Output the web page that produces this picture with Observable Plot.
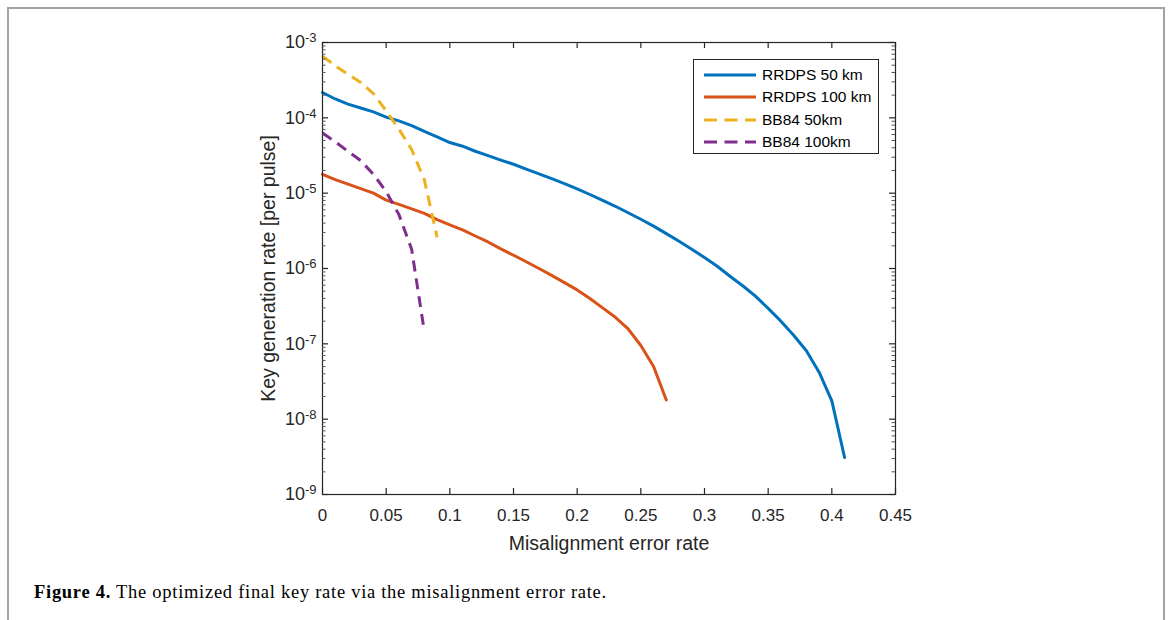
<!DOCTYPE html>
<html><head><meta charset="utf-8">
<script src="https://cdn.jsdelivr.net/npm/d3@7"></script>
<script src="https://cdn.jsdelivr.net/npm/@observablehq/plot@0.6"></script>
<style>
body{margin:0;background:#fff;}
#wrap{position:relative;width:1170px;height:620px;overflow:hidden;background:#fff;font-family:"Liberation Sans",Arial,sans-serif;}
#frame{position:absolute;left:7px;top:7px;width:1158px;height:700px;border:2px solid #a3a3a3;box-sizing:border-box;pointer-events:none;}
#chart{position:absolute;left:0;top:0;}
#legend{position:absolute;left:693px;top:59px;width:186px;height:95px;box-sizing:border-box;border:1px solid #262626;background:#fff;padding-top:4px;}
.row{display:flex;align-items:center;height:22.3px;font-size:15.5px;color:#000;}
.row svg{margin-left:10px;margin-right:6px;}
#caption{position:absolute;left:34px;top:582px;font-family:"Liberation Serif","Times New Roman",serif;font-size:18.5px;letter-spacing:0.72px;color:#000;white-space:nowrap;}
</style>
</head><body>
<div id="wrap"><div id="chart"></div><div id="legend"></div><div id="caption"><b>Figure 4.</b> The optimized final key rate via the misalignment error rate.</div><div id="frame"></div></div>
<script>
// ---- data ----
const xRRDPS50 = [0,0.01,0.02,0.03,0.04,0.05,0.06,0.07,0.08,0.09,0.10,0.11,0.12,0.13,0.14,0.15,0.16,0.17,0.18,0.19,0.20,0.21,0.22,0.23,0.24,0.25,0.26,0.27,0.28,0.29,0.30,0.31,0.32,0.33,0.34,0.35,0.36,0.37,0.38,0.39,0.40,0.41];
const yRRDPS50 = [2.17e-4,1.78e-4,1.52e-4,1.35e-4,1.2e-4,1.02e-4,9.1e-5,7.9e-5,6.6e-5,5.6e-5,4.7e-5,4.2e-5,3.6e-5,3.15e-5,2.75e-5,2.42e-5,2.08e-5,1.8e-5,1.56e-5,1.34e-5,1.14e-5,9.6e-6,8.0e-6,6.7e-6,5.5e-6,4.5e-6,3.65e-6,2.9e-6,2.3e-6,1.8e-6,1.4e-6,1.07e-6,7.9e-7,5.9e-7,4.3e-7,2.95e-7,2.0e-7,1.3e-7,8.1e-8,4.2e-8,1.75e-8,3.1e-9];
const xRRDPS100 = [0,0.01,0.02,0.03,0.04,0.05,0.06,0.07,0.08,0.09,0.10,0.11,0.12,0.13,0.14,0.15,0.16,0.17,0.18,0.19,0.20,0.21,0.22,0.23,0.24,0.25,0.26,0.27];
const yRRDPS100 = [1.78e-5,1.51e-5,1.32e-5,1.15e-5,1.0e-5,8.1e-6,7.1e-6,6.2e-6,5.4e-6,4.45e-6,3.8e-6,3.25e-6,2.7e-6,2.25e-6,1.82e-6,1.5e-6,1.23e-6,1.0e-6,8.1e-7,6.5e-7,5.2e-7,4.0e-7,3.0e-7,2.25e-7,1.58e-7,9.5e-8,5.0e-8,1.8e-8];
const xBB84_50 = [0,0.01,0.02,0.03,0.04,0.05,0.06,0.07,0.08,0.09];
const yBB84_50 = [6.6e-4,4.9e-4,3.8e-4,2.95e-4,2.1e-4,1.24e-4,7.1e-5,3.8e-5,1.5e-5,2.6e-6];
const xBB84_100 = [0,0.01,0.02,0.03,0.04,0.05,0.06,0.07,0.08];
const yBB84_100 = [6.3e-5,4.8e-5,3.6e-5,2.7e-5,1.78e-5,1.05e-5,5.2e-6,1.8e-6,1.45e-7];

const seriesNames = ["RRDPS 50 km","RRDPS 100 km","BB84 50km","BB84 100km"];
const seriesColors = ["#0072BD","#D95319","#EDB120","#7E2F8E"];
const seriesDashed = [false,false,true,true];
const xTicks = [0,0.05,0.1,0.15,0.2,0.25,0.3,0.35,0.4,0.45];
const yMajor = [1e-9,1e-8,1e-7,1e-6,1e-5,1e-4,1e-3];
const xLabel = "Misalignment error rate";
const yLabel = "Key generation rate [per pulse]";

// ---- build ----
const seriesX = [xRRDPS50,xRRDPS100,xBB84_50,xBB84_100];
const seriesY = [yRRDPS50,yRRDPS100,yBB84_50,yBB84_100];
const yMinor = yMajor.slice(0,-1).flatMap(p => [2,3,4,5,6,7,8,9].map(m => m*p));

const W = 1170, H = 560;
const mL = 322, mR = 275, mT = 42, mB = H - 494;
const fw = W - mL - mR, fh = H - mT - mB;
const axisColor = "#262626";

const lineMarks = seriesNames.map((n,i) => Plot.line(seriesX[i].map((x,j)=>({x, y: seriesY[i][j]})), {
  x:"x", y:"y", stroke: seriesColors[i], strokeWidth: 3,
  strokeDasharray: seriesDashed[i] ? "11,7" : null, strokeLinejoin:"round", strokeLinecap: seriesDashed[i] ? "butt" : "round"
}));

const chart = Plot.plot({
  width: W, height: H,
  marginLeft: mL, marginRight: mR, marginTop: mT, marginBottom: mB,
  style: {fontFamily: "Liberation Sans, Arial, sans-serif", background: "white", color: axisColor, overflow:"visible"},
  x: {domain: [0, 0.45]},
  y: {type: "log", domain: [1e-9, 1e-3]},
  marks: [
    ...lineMarks,
    Plot.frame({stroke: axisColor, strokeWidth: 1.2}),
    Plot.tickX(xTicks, {x: d => d, insetTop: fh - 6, stroke: axisColor, strokeWidth: 1.2}),
    Plot.tickX(xTicks, {x: d => d, insetBottom: fh - 6, stroke: axisColor, strokeWidth: 1.2}),
    Plot.tickY(yMajor, {y: d => d, insetRight: fw - 6, stroke: axisColor, strokeWidth: 1.2}),
    Plot.tickY(yMajor, {y: d => d, insetLeft: fw - 6, stroke: axisColor, strokeWidth: 1.2}),
    Plot.tickY(yMinor, {y: d => d, insetRight: fw - 3.5, stroke: "#555", strokeWidth: 1}),
    Plot.tickY(yMinor, {y: d => d, insetLeft: fw - 3.5, stroke: "#555", strokeWidth: 1}),
    Plot.axisX(xTicks, {anchor: "bottom", tickSize: 0, tickPadding: 14, fontSize: 17, fill: axisColor,
      tickFormat: d => String(+d.toFixed(2)), label: null}),
    Plot.axisY(yMajor, {anchor: "left", tickSize: 0, tickPadding: 6, fontSize: 18, fill: axisColor,
      tickFormat: d => "10^" + Math.round(Math.log10(d)), label: null}),
    Plot.text([xLabel], {frameAnchor: "bottom", dy: 49, lineAnchor: "middle", fontSize: 19.5, fill: axisColor}),
    Plot.text([yLabel], {frameAnchor: "left", dx: -54, rotate: -90, lineAnchor: "middle", textAnchor: "middle", fontSize: 19.5, fill: axisColor})
  ]
});
document.getElementById("chart").appendChild(chart);

// superscript exponents in y tick labels
d3.select(chart).selectAll("g[aria-label='y-axis tick label'] text").each(function(){
  const t = d3.select(this);
  const s = t.text();
  if (!s.includes("^")) return;
  const [base, exp] = s.split("^");
  t.text(null);
  t.append("tspan").attr("font-size", "18px").text(base);
  t.append("tspan").attr("dy", "-0.45em").attr("font-size", "13px").text(exp);
});

// legend
const leg = d3.select("#legend");
seriesNames.forEach((n,i) => {
  const row = leg.append("div").attr("class","row");
  const sv = row.append("svg").attr("width",52).attr("height",10);
  sv.append("line").attr("x1",0).attr("x2",52).attr("y1",5).attr("y2",5)
    .attr("stroke",seriesColors[i]).attr("stroke-width",3)
    .attr("stroke-dasharray", seriesDashed[i] ? "13,7.5" : null);
  row.append("span").text(n);
});
</script>
</body></html>
